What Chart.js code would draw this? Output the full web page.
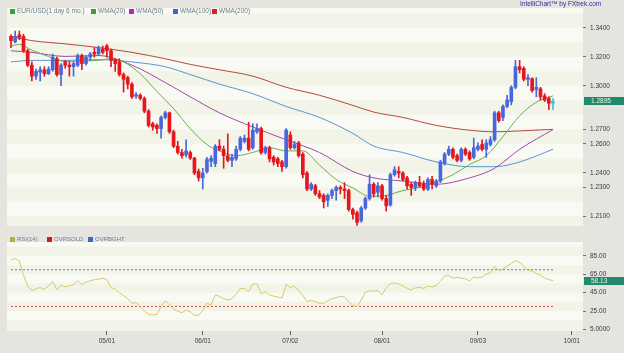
<!DOCTYPE html>
<html>
<head>
<meta charset="utf-8">
<script src="https://cdn.jsdelivr.net/npm/chart.js@4.4.1/dist/chart.umd.min.js"></script>
<style>
  html, body { margin: 0; padding: 0; background: #e6e4df; }
  #wrap { position: relative; width: 624px; height: 353px; overflow: hidden;
          font-family: "Liberation Sans", Arial, sans-serif; }
  canvas { position: absolute; left: 0; }
  #priceCanvas { top: 0; }
  #rsiCanvas { top: 234px; }
  .leg { position: absolute; font-size: 6.5px; line-height: 7px; color: #6b7d8f; white-space: nowrap; }
  .leg.small { font-size: 6px; }
  .leg i { display: inline-block; width: 5px; height: 5px; margin-right: 2px; vertical-align: -0.5px; }
  #brand { position: absolute; left: 520px; top: 0px; font-size: 6.5px; color: #2c2c9c; white-space: nowrap; }
</style>
</head>
<body>
<div id="wrap">
  <canvas id="priceCanvas" width="624" height="234"></canvas>
  <canvas id="rsiCanvas" width="624" height="119"></canvas>
  <div id="brand">IntelliChart™ by FXtrek.com</div>
</div>
<script>
// daily EUR/USD candles, one per trading day (index 0 = first bar on the left)
const opens = [
  1.3341, 1.3304, 1.3352, 1.3341, 1.3242, 1.3143, 1.3067, 1.3095, 1.3111, 1.3084,
  1.3111, 1.3187, 1.3078, 1.3165, 1.3143, 1.3132, 1.3143, 1.3209, 1.3154, 1.3198,
  1.3231, 1.3220, 1.3253, 1.3275, 1.3242, 1.3181, 1.3165, 1.3078, 1.3056, 1.3012,
  1.2929, 1.2935, 1.2913, 1.2825, 1.2738, 1.2727, 1.2705, 1.2782, 1.2814, 1.2683,
  1.2584, 1.2540, 1.2523, 1.2540, 1.2501, 1.2409, 1.2365, 1.2409, 1.2479, 1.2464,
  1.2584, 1.2562, 1.2518, 1.2486, 1.2496, 1.2562, 1.2617, 1.2639, 1.2573, 1.2683,
  1.2705, 1.2540, 1.2573, 1.2507, 1.2496, 1.2475, 1.2442, 1.2661, 1.2573, 1.2606,
  1.2529, 1.2398, 1.2288, 1.2310, 1.2255, 1.2244, 1.2211, 1.2244, 1.2277, 1.2299,
  1.2288, 1.2277, 1.2146, 1.2124, 1.2069, 1.2157, 1.2222, 1.2321, 1.2266, 1.2310,
  1.2222, 1.2178, 1.2387, 1.2409, 1.2398, 1.2365, 1.2321, 1.2299, 1.2332, 1.2321,
  1.2288, 1.2354, 1.2310, 1.2343, 1.2464, 1.2529, 1.2562, 1.2518, 1.2486, 1.2562,
  1.2540, 1.2507, 1.2562, 1.2595, 1.2562, 1.2595, 1.2628, 1.2814, 1.2782, 1.2858,
  1.2891, 1.2990, 1.3132, 1.3121, 1.3045, 1.3049, 1.2975, 1.2979, 1.2931, 1.2913,
  1.2880
];
const highs = [
  1.3352, 1.3378, 1.3378, 1.3356, 1.3253, 1.3165, 1.3115, 1.3132, 1.3132, 1.3132,
  1.3220, 1.3198, 1.3154, 1.3176, 1.3165, 1.3165, 1.3220, 1.3220, 1.3209, 1.3231,
  1.3264, 1.3275, 1.3275, 1.3286, 1.3253, 1.3187, 1.3187, 1.3089, 1.3067, 1.3023,
  1.2953, 1.2946, 1.2924, 1.2836, 1.2749, 1.2738, 1.2793, 1.2825, 1.2819, 1.2694,
  1.2617, 1.2562, 1.2628, 1.2551, 1.2507, 1.2426, 1.2431, 1.2507, 1.2518, 1.2595,
  1.2628, 1.2584, 1.2668, 1.2529, 1.2584, 1.2650, 1.2661, 1.2749, 1.2738, 1.2738,
  1.2716, 1.2584, 1.2584, 1.2518, 1.2507, 1.2486, 1.2705, 1.2683, 1.2617, 1.2617,
  1.2540, 1.2409, 1.2332, 1.2321, 1.2277, 1.2255, 1.2255, 1.2288, 1.2310, 1.2310,
  1.2332, 1.2288, 1.2157, 1.2135, 1.2168, 1.2233, 1.2387, 1.2332, 1.2332, 1.2321,
  1.2244, 1.2398, 1.2442, 1.2442, 1.2409, 1.2376, 1.2332, 1.2343, 1.2376, 1.2343,
  1.2365, 1.2376, 1.2354, 1.2486, 1.2540, 1.2584, 1.2573, 1.2529, 1.2573, 1.2573,
  1.2551, 1.2639, 1.2606, 1.2628, 1.2628, 1.2650, 1.2825, 1.2825, 1.2869, 1.2935,
  1.3001, 1.3176, 1.3176, 1.3132, 1.3078, 1.3056, 1.3056, 1.2990, 1.2946, 1.2924,
  1.2913
];
const lows = [
  1.3264, 1.3297, 1.3319, 1.3231, 1.3132, 1.3034, 1.3045, 1.3034, 1.3067, 1.3078,
  1.3100, 1.3067, 1.3001, 1.3121, 1.3067, 1.3067, 1.3132, 1.3111, 1.3143, 1.3176,
  1.3198, 1.3209, 1.3220, 1.3198, 1.3132, 1.3100, 1.3067, 1.2957, 1.2979, 1.2913,
  1.2913, 1.2902, 1.2814, 1.2716, 1.2694, 1.2672, 1.2639, 1.2771, 1.2672, 1.2573,
  1.2529, 1.2501, 1.2507, 1.2492, 1.2387, 1.2343, 1.2288, 1.2398, 1.2442, 1.2442,
  1.2551, 1.2431, 1.2475, 1.2442, 1.2486, 1.2551, 1.2606, 1.2551, 1.2562, 1.2672,
  1.2529, 1.2529, 1.2475, 1.2453, 1.2442, 1.2409, 1.2431, 1.2562, 1.2562, 1.2507,
  1.2365, 1.2277, 1.2277, 1.2244, 1.2222, 1.2157, 1.2168, 1.2222, 1.2211, 1.2255,
  1.2222, 1.2135, 1.2080, 1.2036, 1.2058, 1.2146, 1.2211, 1.2233, 1.2233, 1.2211,
  1.2135, 1.2168, 1.2376, 1.2365, 1.2343, 1.2288, 1.2244, 1.2277, 1.2299, 1.2277,
  1.2277, 1.2288, 1.2299, 1.2332, 1.2453, 1.2518, 1.2496, 1.2475, 1.2475, 1.2518,
  1.2486, 1.2496, 1.2551, 1.2551, 1.2507, 1.2584, 1.2617, 1.2749, 1.2760, 1.2847,
  1.2869, 1.2979, 1.3089, 1.3034, 1.3001, 1.2957, 1.2924, 1.2902, 1.2891, 1.2836,
  1.2836
];
const closes = [
  1.3312, 1.3341, 1.3334, 1.3242, 1.3143, 1.3067, 1.3100, 1.3111, 1.3084, 1.3115,
  1.3198, 1.3078, 1.3143, 1.3143, 1.3132, 1.3154, 1.3209, 1.3154, 1.3198, 1.3220,
  1.3220, 1.3264, 1.3231, 1.3242, 1.3176, 1.3154, 1.3078, 1.3045, 1.3012, 1.2924,
  1.2939, 1.2913, 1.2825, 1.2727, 1.2716, 1.2705, 1.2782, 1.2814, 1.2683, 1.2584,
  1.2540, 1.2518, 1.2551, 1.2501, 1.2398, 1.2365, 1.2398, 1.2492, 1.2501, 1.2584,
  1.2562, 1.2518, 1.2486, 1.2507, 1.2562, 1.2639, 1.2639, 1.2562, 1.2694, 1.2705,
  1.2540, 1.2573, 1.2496, 1.2475, 1.2464, 1.2442, 1.2694, 1.2573, 1.2595, 1.2518,
  1.2387, 1.2288, 1.2321, 1.2255, 1.2233, 1.2200, 1.2244, 1.2277, 1.2299, 1.2288,
  1.2277, 1.2146, 1.2113, 1.2058, 1.2157, 1.2222, 1.2321, 1.2255, 1.2310, 1.2222,
  1.2172, 1.2387, 1.2420, 1.2398, 1.2354, 1.2310, 1.2299, 1.2332, 1.2310, 1.2288,
  1.2354, 1.2321, 1.2343, 1.2475, 1.2529, 1.2562, 1.2507, 1.2486, 1.2562, 1.2529,
  1.2496, 1.2573, 1.2584, 1.2562, 1.2606, 1.2628, 1.2814, 1.2760, 1.2858, 1.2902,
  1.2990, 1.3132, 1.3111, 1.3045, 1.3056, 1.2968, 1.2990, 1.2924, 1.2902, 1.2880,
  1.2895
];

// moving averages at a few bar positions
const wmaIndex = [0, 5, 13, 21, 29, 37, 43, 50, 58, 66, 74, 82, 87, 94, 102, 110, 116, 122, 130];
const wma200 = [1.3341, 1.3312, 1.3290, 1.3264, 1.3231, 1.3187, 1.3148, 1.3111, 1.3067, 1.2990,
                1.2935, 1.2865, 1.2819, 1.2782, 1.2727, 1.2694, 1.2683, 1.2689, 1.2700];
const wma100 = [1.3165, 1.3176, 1.3176, 1.3181, 1.3165, 1.3132, 1.3078, 1.3012, 1.2946, 1.2858,
                1.2782, 1.2672, 1.2584, 1.2540, 1.2475, 1.2442, 1.2442, 1.2475, 1.2562];
const wma50 = [1.3242, 1.3231, 1.3203, 1.3209, 1.3143, 1.3023, 1.2924, 1.2814, 1.2716, 1.2628,
               1.2540, 1.2409, 1.2365, 1.2343, 1.2321, 1.2365, 1.2431, 1.2562, 1.2698];
const wma20Index = [0, 2, 5, 9, 13, 17, 21, 24, 27, 31, 35, 39, 43, 47, 50, 54, 58, 62, 66, 70,
                    74, 78, 82, 86, 90, 94, 98, 102, 106, 110, 114, 118, 122, 126, 130];
const wma20 = [1.3275, 1.3286, 1.3246, 1.3203, 1.3168, 1.3172, 1.3176, 1.3187, 1.3165, 1.3084,
               1.2961, 1.2843, 1.2705, 1.2595, 1.2551, 1.2518, 1.2540, 1.2573, 1.2551, 1.2551,
               1.2453, 1.2354, 1.2295, 1.2238, 1.2244, 1.2277, 1.2299, 1.2336, 1.2387, 1.2457,
               1.2518, 1.2650, 1.2793, 1.2887, 1.2931];

// RSI(14), one value per bar
const rsi14 = [
  80.3, 82.3, 79.6, 64.2, 52.2, 47.1, 49.5, 50.5, 48.8, 52.2,
  57.4, 48.1, 52.9, 51.5, 52.2, 53.9, 58.0, 53.9, 56.7, 58.0,
  59.1, 59.7, 60.8, 59.1, 50.5, 48.8, 44.4, 42.0, 38.5, 33.4,
  34.1, 30.0, 24.9, 21.5, 20.8, 21.5, 30.0, 36.2, 31.7, 27.3,
  24.9, 23.2, 25.9, 24.2, 20.4, 20.4, 25.6, 33.4, 31.7, 42.6,
  40.9, 38.5, 36.8, 38.5, 43.7, 49.5, 49.5, 46.1, 54.6, 54.6,
  43.7, 46.1, 42.6, 41.3, 40.3, 39.2, 53.9, 50.5, 52.2, 47.1,
  42.0, 35.1, 36.8, 35.1, 33.4, 33.4, 36.2, 38.5, 39.6, 40.9,
  40.3, 35.1, 31.0, 30.0, 36.8, 45.4, 47.1, 46.8, 47.1, 42.6,
  50.5, 55.0, 55.6, 54.6, 52.2, 49.8, 48.1, 50.2, 50.9, 49.5,
  52.2, 51.2, 52.9, 57.4, 63.2, 63.6, 60.8, 61.8, 60.8, 60.1,
  57.7, 62.1, 61.1, 62.1, 65.2, 66.6, 73.4, 69.3, 70.7, 74.1,
  76.8, 79.9, 78.2, 73.8, 69.3, 68.6, 65.9, 64.2, 61.1, 59.1,
  58.13
];
const OVERBOUGHT = 70;
const OVERSOLD = 30;

// axes
const priceTicks = [1.21, 1.23, 1.24, 1.26, 1.27, 1.30, 1.32, 1.34];
const rsiTicks = [5, 25, 45, 65, 85];
const rsiTickLabels = ['5.0000', '25.00', '45.00', '65.00', '85.00'];
const dateTickIndex = [23, 46, 67, 89, 112, 134.5];
const dateTickLabels = ['05/01', '06/01', '07/02', '08/01', '09/03', '10/01'];

const FONT = '"Liberation Sans", Arial, sans-serif';
Chart.defaults.font.family = FONT;
Chart.defaults.animation = false;

const X_MIN = -0.96, X_MAX = 137.2;
const last = closes.length - 1;

const RED = '#e5161c', BLUE = '#4a66dc', LIVE = '#3fc0e6';
const candleColors = closes.map((c, i) => i === last ? LIVE : (c >= opens[i] ? BLUE : RED));

const panelBands = {
  id: 'panelBands',
  beforeDraw(chart, args, opts) {
    const { ctx, chartArea: a } = chart;
    const y = chart.scales.y;
    ctx.save();
    ctx.fillStyle = opts.base;
    ctx.fillRect(a.left, a.top, a.width, a.height);
    ctx.beginPath();
    ctx.rect(a.left, a.top, a.width, a.height);
    ctx.clip();
    ctx.fillStyle = opts.light;
    for (let k = 0; k < 40; k++) {
      const lo = opts.start + 2 * k * opts.step;
      if (lo > y.max) break;
      const pLo = y.getPixelForValue(lo);
      const pHi = y.getPixelForValue(lo + opts.step);
      ctx.fillRect(a.left, pHi, a.width, pLo - pHi);
    }
    ctx.restore();
  }
};

const lastValueBox = {
  id: 'lastValueBox',
  afterDraw(chart, args, opts) {
    const { ctx, chartArea: a } = chart;
    const py = Math.round(chart.scales.y.getPixelForValue(opts.value));
    ctx.save();
    ctx.fillStyle = opts.color;
    ctx.fillRect(a.right + 1, py - 4, chart.width - a.right - 1, 8);
    ctx.fillStyle = '#e4f6ec';
    ctx.font = '6.5px ' + FONT;
    ctx.textBaseline = 'middle';
    ctx.fillText(opts.text, a.right + 8, py + 0.5);
    ctx.restore();
  }
};

function rightAxis(min, max, ticks, label) {
  return {
    type: 'linear', position: 'right', min, max,
    afterFit(s) { s.width = 41; },
    afterBuildTicks(s) { s.ticks = ticks.map(v => ({ value: v })); },
    ticks: { callback: label, font: { size: 6.5 }, color: '#3a3a3a', padding: 4, autoSkip: false },
    grid: { drawOnChartArea: false, drawTicks: true, tickLength: 3, color: '#707070' },
    border: { display: false }
  };
}

function avgLine(label, xs, ys, color) {
  return {
    type: 'line', label, data: xs.map((x, i) => ({ x, y: ys[i] })),
    borderColor: color, borderWidth: 1, pointRadius: 0,
    cubicInterpolationMode: 'monotone', order: 2
  };
}

new Chart(document.getElementById('priceCanvas'), {
  type: 'bar',
  data: {
    datasets: [
      {
        label: 'body', data: opens.map((o, i) => ({ x: i, y: [o, closes[i]] })),
        backgroundColor: candleColors, barThickness: 3, minBarLength: 1, grouped: false, order: 0
      },
      {
        label: 'wick', data: lows.map((l, i) => ({ x: i, y: [l, highs[i]] })),
        backgroundColor: candleColors, barThickness: 1, grouped: false, order: 1
      },
      avgLine('WMA(20)', wma20Index, wma20, '#6aae4e'),
      avgLine('WMA(50)', wmaIndex, wma50, '#a04aaa'),
      avgLine('WMA(100)', wmaIndex, wma100, '#5a96cf'),
      avgLine('WMA(200)', wmaIndex, wma200, '#b44a3c')
    ]
  },
  options: {
    responsive: false,
    devicePixelRatio: 1,
    layout: { padding: { left: 7, top: 3, right: 0, bottom: 2 } },
    scales: {
      x: { type: 'linear', min: X_MIN, max: X_MAX, offset: false, display: false },
      y: rightAxis(1.2032, 1.3538, priceTicks, v => v.toFixed(4))
    },
    plugins: {
      legend: { display: false },
      tooltip: { enabled: false },
      panelBands: { base: '#f1f4e7', light: '#f9faf3', start: 1.21, step: 0.01 },
      lastValueBox: { value: closes[last], text: closes[last].toFixed(4), color: '#22896a' }
    }
  },
  plugins: [panelBands, lastValueBox]
});

new Chart(document.getElementById('rsiCanvas'), {
  type: 'line',
  data: {
    datasets: [
      {
        label: 'RSI(14)', data: rsi14.map((v, i) => ({ x: i, y: v })),
        borderColor: '#d8ca6c', borderWidth: 1, pointRadius: 0, order: 0
      },
      {
        label: 'OVRBGHT', data: [{ x: 0, y: OVERBOUGHT }, { x: last, y: OVERBOUGHT }],
        borderColor: '#6e6ed6', borderWidth: 1, borderDash: [2, 2], pointRadius: 0, order: 1
      },
      {
        label: 'OVRSOLD', data: [{ x: 0, y: OVERSOLD }, { x: last, y: OVERSOLD }],
        borderColor: '#d84a4a', borderWidth: 1, borderDash: [2, 2], pointRadius: 0, order: 1
      }
    ]
  },
  options: {
    responsive: false,
    devicePixelRatio: 1,
    layout: { padding: { left: 7, top: 2, right: 0, bottom: 0 } },
    scales: {
      x: {
        type: 'linear', min: X_MIN, max: X_MAX, offset: false,
        afterFit(s) { s.height = 22; },
        afterBuildTicks(s) { s.ticks = dateTickIndex.map(v => ({ value: v })); },
        ticks: { callback: (v, i) => dateTickLabels[i], font: { size: 6.5 }, color: '#3a3a3a',
                 padding: 2, maxRotation: 0, autoSkip: false },
        grid: { drawOnChartArea: false, drawTicks: true, tickLength: 4, color: '#606060' },
        border: { display: false }
      },
      y: rightAxis(3.26, 100.3, rsiTicks, (v, i) => rsiTickLabels[i])
    },
    plugins: {
      legend: { display: false },
      tooltip: { enabled: false },
      panelBands: { base: '#f1f4e7', light: '#f9faf3', start: 15, step: 10 },
      lastValueBox: { value: rsi14[last], text: rsi14[last].toFixed(2), color: '#22896a' }
    }
  },
  plugins: [panelBands, lastValueBox]
});

// legends (drawn as text over the panels)
const mainLegend = [
  ['EUR/USD(1 day 6 mo.)', '#3aa03a', 10],
  ['WMA(20)', '#3aa03a', 91],
  ['WMA(50)', '#c21ec2', 129],
  ['WMA(100)', '#3a6cc4', 173],
  ['WMA(200)', '#e01e1e', 212]
];
const rsiLegend = [
  ['RSI(14)', '#b8ae3a', 10],
  ['OVRSOLD', '#c81e1e', 47],
  ['OVRBGHT', '#3a6cc4', 88]
];
function addLegend(items, top, cls) {
  const wrap = document.getElementById('wrap');
  items.forEach(([text, color, left]) => {
    const d = document.createElement('div');
    d.className = 'leg' + (cls ? ' ' + cls : '');
    d.style.left = left + 'px';
    d.style.top = top + 'px';
    d.innerHTML = '<i style="background:' + color + '"></i>' + text;
    wrap.appendChild(d);
  });
}
addLegend(mainLegend, 7);
addLegend(rsiLegend, 236, 'small');
</script>
</body>
</html>
